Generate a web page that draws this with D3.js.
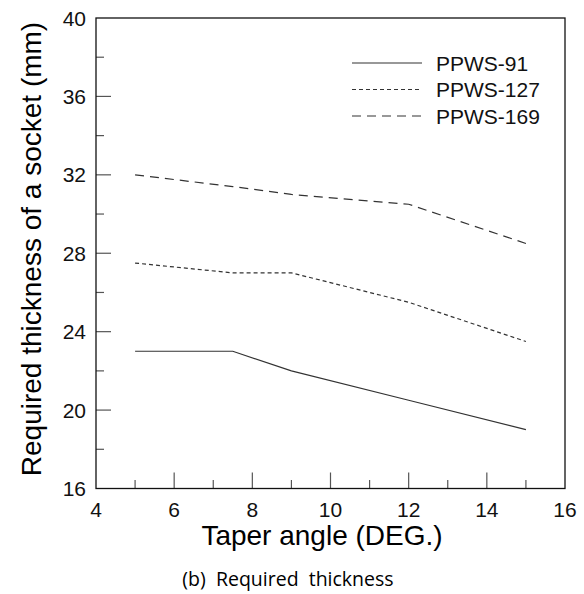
<!DOCTYPE html>
<html><head><meta charset="utf-8">
<script src="https://cdn.jsdelivr.net/npm/d3@7"></script>
<style>body{margin:0;background:#fff}svg{display:block}</style>
</head><body>
<svg id="c" width="584" height="594"></svg>
<script>
const angles = [5, 7.5, 9, 12, 15];
const ppws91 = [23, 23, 22, 20.5, 19];
const ppws127 = [27.5, 27, 27, 25.5, 23.5];
const ppws169 = [32, 31.4, 31, 30.5, 28.5];
const seriesNames = ["PPWS-91", "PPWS-127", "PPWS-169"];
const xTicks = [4, 6, 8, 10, 12, 14, 16];
const yTicks = [16, 20, 24, 28, 32, 36, 40];

const svg = d3.select("#c");
const L = 96, R = 565, T = 18, B = 488.5;
const x = d3.scaleLinear().domain([4, 16]).range([L, R]);
const y = d3.scaleLinear().domain([16, 40]).range([B, T]);
const font = "Arial, 'Liberation Sans', sans-serif";

// minor & major ticks (inward)
const g = svg.append("g");
d3.range(5, 16, 1).forEach(v => {
  const major = v % 2 === 0;
  g.append("line").attr("x1", x(v)).attr("x2", x(v))
    .attr("y1", B).attr("y2", B - (major ? 16 : 8.5))
    .attr("stroke", "#555").attr("stroke-width", 1.2);
});
d3.range(18, 40, 2).forEach(v => {
  const major = v % 4 === 0;
  g.append("line").attr("y1", y(v)).attr("y2", y(v))
    .attr("x1", L).attr("x2", L + (major ? 15 : 8))
    .attr("stroke", "#555").attr("stroke-width", 1.2);
});

// frame
svg.append("rect").attr("x", L).attr("y", T).attr("width", R - L).attr("height", B - T)
  .attr("fill", "none").attr("stroke", "#111").attr("stroke-width", 1.3);

// tick labels
svg.append("g").selectAll("text").data(xTicks).join("text")
  .attr("x", d => x(d)).attr("y", 517).attr("text-anchor", "middle")
  .attr("font-family", font).attr("font-size", 21).attr("fill", "#111").text(d => d);
svg.append("g").selectAll("text").data(yTicks).join("text")
  .attr("x", 86).attr("y", d => y(d)).attr("dy", "0.36em").attr("text-anchor", "end")
  .attr("font-family", font).attr("font-size", 21).attr("fill", "#111").text(d => d);

// titles
svg.append("text").attr("x", 322).attr("y", 545).attr("text-anchor", "middle")
  .attr("font-family", font).attr("font-size", 28).attr("fill", "#000").text("Taper angle (DEG.)");
svg.append("text").attr("transform", "translate(41," + 249 + ") rotate(-90)")
  .attr("text-anchor", "middle")
  .attr("font-family", font).attr("font-size", 28).attr("fill", "#000")
  .text("Required thickness of a socket (mm)");
svg.append("text").attr("x", 288).attr("y", 586).attr("text-anchor", "middle")
  .attr("font-family", "'Open Sans', sans-serif").attr("font-size", 19.5).attr("fill", "#000")
  .attr("xml:space", "preserve").style("white-space", "pre")
  .text("(b)  Required  thickness");

// series
const dashes = [null, "4,3", "9,6"];
const all = [ppws91, ppws127, ppws169];
const line = d3.line().x(d => x(d[0])).y(d => y(d[1]));
all.forEach((vals, i) => {
  svg.append("path").datum(angles.map((a, j) => [a, vals[j]]))
    .attr("d", line).attr("fill", "none").attr("stroke", "#333")
    .attr("stroke-width", 1.2).attr("stroke-dasharray", dashes[i]);
});

// legend
const legY = [63, 89.5, 116];
seriesNames.forEach((n, i) => {
  svg.append("line").attr("x1", 352).attr("x2", 422).attr("y1", legY[i]).attr("y2", legY[i])
    .attr("stroke", "#333").attr("stroke-width", 1.2).attr("stroke-dasharray", dashes[i]);
  svg.append("text").attr("x", 436).attr("y", legY[i]).attr("dy", "0.36em")
    .attr("font-family", font).attr("font-size", 21).attr("fill", "#111").text(n);
});
</script>
</body></html>
